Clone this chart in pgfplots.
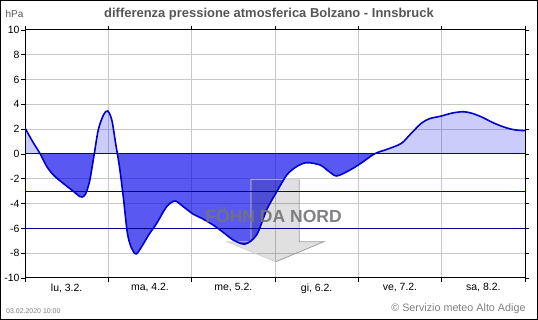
\documentclass[border=0pt]{standalone}
\usepackage{fontspec}
\setmainfont{Liberation Sans}
\usepackage{pgfplots}
\pgfplotsset{compat=1.18}
\usepgfplotslibrary{fillbetween}
\definecolor{fillblue}{RGB}{0,0,235}
\definecolor{lineblue}{RGB}{0,0,205}
\definecolor{navyline}{RGB}{0,0,140}
\definecolor{gridgray}{RGB}{200,200,200}
\definecolor{titlegray}{RGB}{85,85,85}
\definecolor{notegray}{RGB}{128,128,128}
\definecolor{foehngray}{RGB}{115,115,120}
\pgfplotstableread{
h v
0 2.1
2.2 1.0
4.3 0.05
6.25 -1.0
8.2 -1.7
11 -2.37
13.9 -3.0
15.6 -3.4
16.4 -3.47
17.4 -3.25
18.6 -2.2
19.9 -0.08
21.1 1.94
22.6 3.15
23.8 3.47
25.0 2.74
26.1 0.86
27.2 -1.02
28.3 -3.44
29.5 -6.4
30.7 -7.6
32 -8.06
33.6 -7.47
35.8 -6.45
37.9 -5.6
40.8 -4.25
43.2 -3.79
45.6 -4.25
48.5 -4.86
51 -5.2
54.2 -5.73
57 -6.3
60 -6.94
63.4 -7.26
66.7 -6.53
69.6 -4.5
72.5 -3.04
75.4 -1.69
78.2 -1.02
81.1 -0.7
85 -0.89
87.5 -1.4
89.8 -1.77
93.6 -1.29
97 -0.7
100.7 0.02
104.5 0.4
108.4 0.86
111 1.6
114.1 2.47
116.5 2.85
119.9 3.06
123 3.3
126.1 3.41
128.5 3.3
131.4 3.0
135 2.5
138.2 2.15
141 1.95
144 1.88
}\pressdiff
\begin{document}
\begin{tikzpicture}
\begin{axis}[at={(25bp,42bp)}, anchor=south west, scale only axis,
  width=500bp, height=248bp,
  xmin=0, xmax=144, ymin=-10, ymax=10,
  xtick={0,24,...,144},
  xticklabels={{lu, 3.2.},{ma, 4.2.},{me, 5.2.},{gi, 6.2.},{ve, 7.2.},{sa, 8.2.}},
  x tick label as interval,
  ytick={-10,-8,...,10},
  grid=major, grid style={gridgray, line width=1bp},
  axis line style={black, line width=1bp},
  tick align=outside, major tick length=4bp,
  tick style={black, line width=0.8bp},
  ticklabel style={font=\fontsize{10.5}{12}\selectfont, text=black},
  yticklabel style={xshift=2bp},
  xticklabel style={yshift=2bp},
  /pgf/number format/assume math mode=true,
]
\addplot[name path=curve, draw=none, smooth] table[x=h, y=v] {\pressdiff};
\addplot[name path=zero, draw=none] coordinates {(0,0) (144,0)};
\addplot[fill=fillblue, fill opacity=0.65, draw=none]
  fill between[of=curve and zero, split,
    every segment no 0/.style={fill opacity=0.2},
    every segment no 2/.style={fill opacity=0.2},
    every segment no 4/.style={fill opacity=0.2}];
% arrow annotation
\fill[black, opacity=0.12] (axis cs:65.1,-2.04) -- (axis cs:79.0,-2.04) -- (axis cs:79.0,-7.07) -- (axis cs:86.1,-7.07)
  -- (axis cs:72.2,-8.69) -- (axis cs:58.1,-7.07) -- (axis cs:65.1,-7.07) -- cycle;
\draw[gray!35, line width=0.8bp] (axis cs:79.0,-2.04) -- (axis cs:65.1,-2.04) -- (axis cs:65.1,-7.07) -- (axis cs:58.1,-7.07) -- (axis cs:72.2,-8.69);
\draw[gray!75, line width=0.8bp] (axis cs:79.0,-2.04) -- (axis cs:79.0,-7.07) -- (axis cs:86.1,-7.07) -- (axis cs:72.2,-8.69);
% reference lines
\addplot[navyline, line width=1bp] coordinates {(0,0) (144,0)};
\addplot[navyline, line width=1bp] coordinates {(0,-3) (144,-3)};
\addplot[navyline, line width=1bp] coordinates {(0,-6) (144,-6)};
% curve
\addplot[lineblue, line width=1.6bp, smooth] table[x=h, y=v] {\pressdiff};
\node[font=\fontsize{17.6}{20}\selectfont\bfseries, text=foehngray, text opacity=0.9]
  at (axis cs:71.6,-4.92) {FÖHN DA NORD};
\end{axis}
\node[font=\fontsize{13}{15}\selectfont\bfseries, text=titlegray] at (269bp,306bp)
  {differenza pressione atmosferica Bolzano - Innsbruck};
\node[font=\fontsize{10}{12}\selectfont, text=titlegray, anchor=west, inner sep=0pt] at (5.5bp,306bp) {hPa};
\node[font=\fontsize{7}{8}\selectfont, text=notegray, anchor=base west, inner sep=0pt] at (6bp,7bp) {03.02.2020 10:00};
\node[font=\fontsize{10.8}{12}\selectfont, text=notegray, anchor=base east, inner sep=0pt] at (525.7bp,9bp) {© Servizio meteo Alto Adige};
\draw[black, line width=1bp] (0.5bp,0.5bp) rectangle (537.5bp,319.5bp);
\pgfresetboundingbox
\path[use as bounding box] (0bp,0bp) rectangle (538bp,320bp);
\end{tikzpicture}
\end{document}
